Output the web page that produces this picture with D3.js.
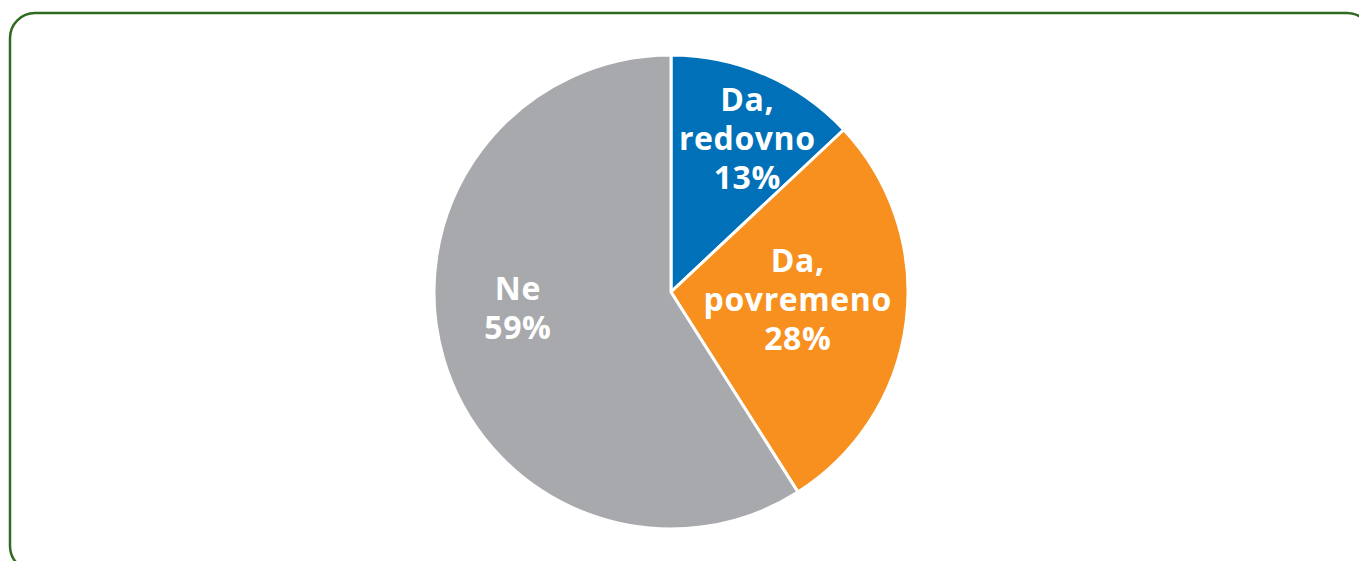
<!DOCTYPE html>
<html>
<head>
<meta charset="utf-8">
<script src="https://cdn.jsdelivr.net/npm/d3@7"></script>
<style>
  html, body { margin: 0; padding: 0; background: #fff; }
  svg { display: block; }
</style>
</head>
<body>
<div id="chart"></div>
<script>
const width = 1359;
const height = 561;

// data
const categories = ["Da, redovno", "Da, povremeno", "Ne"];
const values = [13, 28, 59];
const labelLines = [["Da,", "redovno", "13%"], ["Da,", "povremeno", "28%"], ["Ne", "59%"]];
const colors = ["#0070b8", "#f7901e", "#a7a9ac"];

// label placement (angle in degrees from top, radius in px)
const labelPlace = [[26.5, 171], [93.5, 127], [264, 154]];

const svg = d3.select("#chart")
    .append("svg")
    .attr("width", width)
    .attr("height", height);

// frame
svg.append("rect")
    .attr("x", 10)
    .attr("y", 13)
    .attr("width", 1362)
    .attr("height", 558)
    .attr("rx", 25)
    .attr("fill", "none")
    .attr("stroke", "#2e6b20")
    .attr("stroke-width", 2.5);

const cx = 671, cy = 292, radius = 237;

const pie = d3.pie().sort(null).value(d => d);
const arc = d3.arc().innerRadius(0).outerRadius(radius);

const g = svg.append("g").attr("transform", `translate(${cx},${cy})`);

const arcs = pie(values);

g.selectAll("path")
    .data(arcs)
    .enter()
    .append("path")
    .attr("d", arc)
    .attr("fill", (d, i) => colors[i])
    .attr("stroke", "#fff")
    .attr("stroke-width", 3)
    .attr("stroke-linejoin", "miter");

const lineH = 39;

g.selectAll("text.lbl")
    .data(arcs)
    .enter()
    .append("text")
    .attr("class", "lbl")
    .attr("text-anchor", "middle")
    .attr("font-family", "'Open Sans', sans-serif")
    .attr("font-weight", "bold")
    .attr("font-size", "32px")
    .attr("letter-spacing", "0.6px")
    .attr("fill", "#fff")
    .each(function (d, i) {
        const a = labelPlace[i][0] * Math.PI / 180;
        const r = labelPlace[i][1];
        const x = Math.sin(a) * r;
        const y = -Math.cos(a) * r;
        const lines = labelLines[i];
        const top = y - (lines.length - 1) * lineH / 2;
        lines.forEach((t, j) => {
            d3.select(this).append("tspan")
                .attr("x", x)
                .attr("y", top + j * lineH)
                .attr("dy", "0.35em")
                .text(t);
        });
    });
</script>
</body>
</html>
